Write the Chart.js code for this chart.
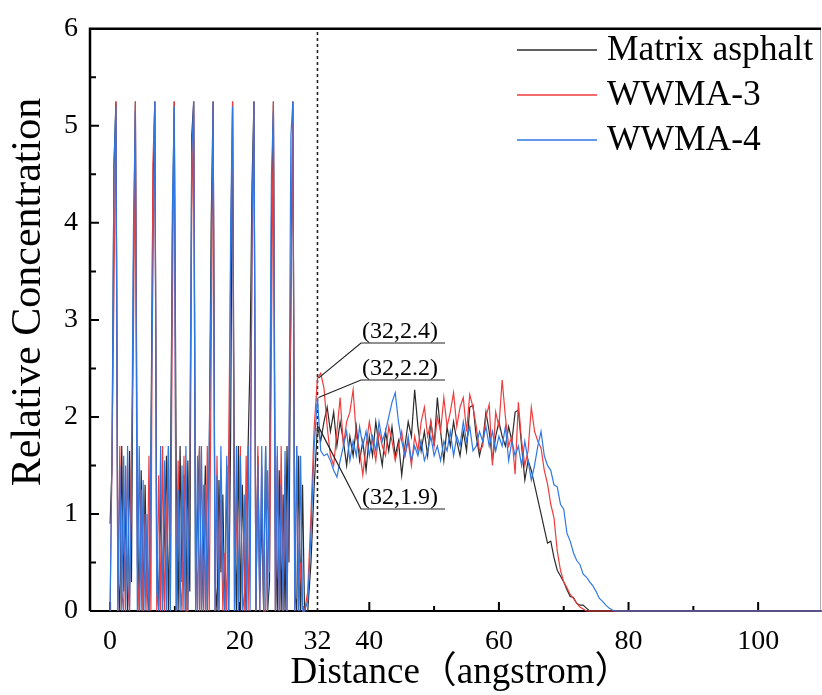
<!DOCTYPE html>
<html>
<head>
<meta charset="utf-8">
<script src="https://cdn.jsdelivr.net/npm/chart.js@4.4.1/dist/chart.umd.min.js"></script>
<style>
  html, body { margin: 0; padding: 0; background: #fff; }
  canvas { display: block; }
</style>
</head>
<body>
<canvas id="profileChart" width="822" height="695"></canvas>
<script>
// distance grid (angstrom), dense in the layered region, coarser after
const distLeft = [
  0, 0.3, 0.6, 0.9, 1.2, 1.5, 1.8, 2.1, 2.4, 2.7,
  3, 3.3, 3.6, 3.9, 4.2, 4.5, 4.8, 5.1, 5.4, 5.7,
  6, 6.3, 6.6, 6.9, 7.2, 7.5, 7.8, 8.1, 8.4, 8.7,
  9, 9.3, 9.6, 9.9, 10.2, 10.5, 10.8, 11.1, 11.4, 11.7,
  12, 12.3, 12.6, 12.9, 13.2, 13.5, 13.8, 14.1, 14.4, 14.7,
  15, 15.3, 15.6, 15.9, 16.2, 16.5, 16.8, 17.1, 17.4, 17.7,
  18, 18.3, 18.6, 18.9, 19.2, 19.5, 19.8, 20.1, 20.4, 20.7,
  21, 21.3, 21.6, 21.9, 22.2, 22.5, 22.8, 23.1, 23.4, 23.7,
  24, 24.3, 24.6, 24.9, 25.2, 25.5, 25.8, 26.1, 26.4, 26.7,
  27, 27.3, 27.6, 27.9, 28.2, 28.5, 28.8, 29.1, 29.4, 29.7,
  30
];
const distRight = [
  30.5, 31, 31.5, 32, 32.5, 33, 33.5, 34, 34.5, 35,
  35.5, 36, 36.5, 37, 37.5, 38, 38.5, 39, 39.5, 40,
  40.5, 41, 41.5, 42, 42.5, 43, 43.5, 44, 44.5, 45,
  45.5, 46, 46.5, 47, 47.5, 48, 48.5, 49, 49.5, 50,
  50.5, 51, 51.5, 52, 52.5, 53, 53.5, 54, 54.5, 55,
  55.5, 56, 56.5, 57, 57.5, 58, 58.5, 59, 59.5, 60,
  60.5, 61, 61.5, 62, 62.5, 63, 63.5, 64, 64.5, 65,
  65.5, 66, 66.5, 67, 67.5, 68, 68.5, 69, 69.5, 70,
  70.5, 71, 71.5, 72, 72.5, 73, 73.5, 74, 74.5, 75,
  75.5, 76, 76.5, 77, 77.5, 78, 78.5, 79, 79.5, 80,
  90, 100, 110
];

// Matrix asphalt
const matrixLeft = [
  0.9, 1.5, 4.6, 5.25, 0.4, 0, 1.7, 0.2, 1.1, 0,
  1.65, 0.3, 3.5, 5.25, 1.0, 0, 1.45, 0, 1.3, 0.2,
  0, 1.7, 4.3, 5.25, 0.6, 0, 1.2, 0.1, 0.8, 1.6,
  0, 1.2, 3.8, 5.25, 1.5, 0, 1.7, 0.3, 1.4, 0,
  1.55, 0.2, 4.9, 5.25, 0, 1.1, 1.7, 0, 0.6, 1.5,
  0, 1.6, 4.0, 5.25, 0.3, 0, 1.35, 0.4, 1.2, 0,
  1.5, 0, 1.8, 5.25, 0.9, 0, 1.7, 0, 1.3, 0.5,
  0, 1.7, 2.6, 4.4, 5.25, 0, 1.6, 0.2, 1.0, 0,
  1.7, 0, 0.3, 4.0, 5.25, 0.8, 0, 1.45, 0, 1.2,
  0, 1.7, 0.5, 3.3, 5.25, 0.2, 0, 1.6, 0, 1.3,
  0
];
const matrixRight = [
  0, 0.5, 1.3, 1.9, 1.75, 1.95, 2.1, 1.85, 2.05, 1.7,
  1.95, 1.75, 1.5, 1.8, 1.6, 1.9, 1.55, 1.75, 1.45, 1.8,
  1.6, 1.95, 1.7, 1.5, 1.85, 1.65, 1.9, 1.6, 1.75, 1.4,
  1.7, 1.95, 1.8, 2.28, 1.9, 1.65, 1.85, 1.6, 1.95, 1.7,
  2.2, 1.85, 1.55, 1.9, 1.7, 1.95, 1.75, 1.6, 1.85, 1.65,
  2.1, 2.12, 1.8, 1.6, 1.75, 2.05, 1.85, 1.55, 1.8, 1.95,
  1.8, 1.7, 1.9, 1.75, 2.05, 2.07, 1.7, 1.35, 1.55, 1.45,
  1.3, 1.15, 1.0, 0.85, 0.7, 0.72, 0.55, 0.42, 0.36, 0.3,
  0.22, 0.15, 0.14, 0.08, 0.06, 0.06, 0.03, 0, 0, 0,
  0, 0, 0, 0, 0, 0, 0, 0, 0, 0,
  0, 0, 0
];

// WWMA-3
const wwma3Left = [
  0, 1.6, 3.3, 5.25, 0, 1.7, 0.2, 0, 1.5, 0.3,
  0, 1.7, 2.8, 5.25, 0.5, 0, 1.25, 0, 1.0, 0,
  1.6, 0, 4.6, 5.25, 0, 1.4, 0, 1.7, 0, 0.9,
  1.7, 0, 3.0, 5.25, 0, 1.55, 0.3, 0, 1.6, 0,
  0, 1.5, 4.1, 5.25, 0.9, 0, 1.7, 0, 1.3, 0,
  1.7, 0, 2.6, 5.25, 0, 1.6, 0, 1.15, 0, 0.6,
  0, 1.7, 3.6, 5.25, 0, 1.2, 0, 1.7, 0.2, 0,
  1.6, 0, 1.3, 3.5, 5.25, 0, 1.7, 0, 1.5, 0,
  0, 1.45, 0.4, 2.8, 5.25, 0, 1.6, 0, 1.7, 0,
  1.4, 0, 1.7, 3.0, 5.25, 0, 1.7, 0, 0.5, 0,
  0
];
const wwma3Right = [
  0.2, 1.0, 1.9, 2.4, 2.45, 2.3, 1.9, 1.6, 1.5, 1.85,
  2.2, 1.7, 1.95, 2.05, 2.28, 1.8, 1.65, 1.4, 1.7, 1.95,
  1.75, 1.55, 1.85, 1.7, 1.6, 1.9, 1.75, 1.55, 1.7, 1.85,
  1.6, 1.75, 1.5, 1.8, 1.65, 1.95, 2.1, 1.8, 1.95, 1.7,
  2.0, 1.85, 2.2, 1.9, 2.05, 2.25, 1.9, 2.1, 2.2, 1.85,
  2.23, 2.1, 1.9, 1.65, 1.7, 2.0, 2.13, 1.5, 2.05, 1.9,
  2.38, 2.0, 1.7, 1.8, 1.41, 2.15, 1.75, 1.5, 1.65, 2.1,
  1.85, 1.75, 1.68, 1.45, 1.31, 1.1, 0.96, 0.62, 0.42, 0.3,
  0.24, 0.17, 0.13, 0.08, 0.04, 0.02, 0, 0, 0, 0,
  0, 0, 0, 0, 0, 0, 0, 0, 0, 0,
  0, 0, 0
];

// WWMA-4
const wwma4Left = [
  0, 1.7, 4.6, 5.2, 0, 1.5, 0, 1.6, 0, 1.7,
  0, 1.2, 3.9, 5.15, 0, 1.7, 0, 1.35, 0, 1.0,
  0, 1.7, 3.4, 5.25, 0.2, 0, 1.7, 0, 1.55, 0,
  1.7, 0, 4.1, 5.2, 0, 1.25, 0, 1.5, 0, 1.7,
  0, 1.6, 4.7, 5.25, 0, 1.6, 0, 1.7, 0, 1.3,
  0, 1.7, 3.5, 5.25, 0, 1.4, 0, 1.7, 0.4, 0,
  1.6, 0, 4.0, 5.2, 0, 1.7, 0, 1.6, 0, 1.2,
  0, 1.7, 0, 4.0, 5.25, 0, 1.5, 0, 1.7, 0,
  1.7, 0, 1.6, 4.5, 5.15, 0, 1.7, 0, 1.3, 0,
  1.65, 0, 1.7, 4.9, 5.25, 0, 1.7, 0, 1.6, 0,
  0
];
const wwma4Right = [
  0.1, 0.8, 1.7, 2.2, 1.65, 1.6, 1.62, 1.55, 1.45, 1.38,
  1.55, 1.7, 1.85, 1.55, 1.75, 1.6, 1.9, 1.7, 1.85, 1.6,
  1.8, 1.65, 1.95, 1.75, 1.85, 2.0, 2.15, 2.25, 1.95, 1.75,
  1.6, 1.8, 1.55, 1.7, 1.6, 1.75, 1.55, 1.65, 1.8, 1.6,
  1.7, 1.55, 1.75, 1.65, 1.85, 1.6, 1.8, 1.7, 1.95, 1.75,
  1.9, 1.65, 1.7, 1.85, 1.75, 1.9, 1.7, 1.85, 1.65, 1.8,
  1.7, 1.9, 1.55, 1.75, 1.6, 1.7, 1.5, 1.75, 1.55, 1.35,
  1.5, 1.7, 1.85, 1.6, 1.5, 1.45, 1.3, 1.28, 1.1, 1.05,
  0.8, 0.72, 0.6, 0.52, 0.48, 0.38, 0.35, 0.3, 0.26, 0.2,
  0.13, 0.1, 0.06, 0.03, 0.01, 0, 0, 0, 0, 0,
  0, 0, 0
];

const seriesNames = ["Matrix asphalt", "WWMA-3", "WWMA-4"];
const seriesColors = ["#2b2b2b", "#f03c3c", "#2e78e4"];
const xTickValues = [0, 20, 32, 40, 60, 80, 100];
// labelled points at the interface
const interfaceMarks = [
  { x: 32, y: 2.4, label: "(32,2.4)" },
  { x: 32, y: 2.2, label: "(32,2.2)" },
  { x: 32, y: 1.9, label: "(32,1.9)" }
];

const serif = "'Liberation Serif', 'Times New Roman', 'Noto Sans CJK SC', serif";

function toPoints(xs, ys) {
  return xs.map((x, i) => ({ x: x, y: ys[i] }));
}

const decorPlugin = {
  id: "decor",
  beforeDatasetsDraw(chart) {
    const { ctx, chartArea: a, scales: { x, y } } = chart;
    ctx.save();
    // frame
    ctx.strokeStyle = "#aaa";
    ctx.lineWidth = 1;
    ctx.beginPath();
    ctx.moveTo(a.right - 0.5, a.top);
    ctx.lineTo(a.right - 0.5, a.bottom);
    ctx.stroke();
    ctx.strokeStyle = "#000";
    ctx.lineWidth = 2.5;
    ctx.beginPath();
    ctx.moveTo(a.left, a.bottom);
    ctx.lineTo(a.left, a.top);
    ctx.lineTo(a.right, a.top);
    ctx.stroke();
    ctx.lineWidth = 2;
    ctx.beginPath();
    ctx.moveTo(a.left, a.bottom);
    ctx.lineTo(a.right, a.bottom);
    ctx.stroke();
    // inward ticks
    ctx.lineWidth = 2;
    ctx.beginPath();
    [0, 20, 40, 60, 80, 100].forEach(v => {
      const px = x.getPixelForValue(v);
      ctx.moveTo(px, a.bottom); ctx.lineTo(px, a.bottom - 9);
    });
    [10, 30, 50, 70, 90].forEach(v => {
      const px = x.getPixelForValue(v);
      ctx.moveTo(px, a.bottom); ctx.lineTo(px, a.bottom - 5);
    });
    [1, 2, 3, 4, 5].forEach(v => {
      const py = y.getPixelForValue(v);
      ctx.moveTo(a.left, py); ctx.lineTo(a.left + 9, py);
    });
    [0.5, 1.5, 2.5, 3.5, 4.5, 5.5].forEach(v => {
      const py = y.getPixelForValue(v);
      ctx.moveTo(a.left, py); ctx.lineTo(a.left + 6, py);
    });
    ctx.stroke();
    // dotted interface line
    const ix = x.getPixelForValue(32);
    ctx.setLineDash([3, 3]);
    ctx.lineWidth = 1.6;
    ctx.strokeStyle = "#222";
    ctx.beginPath();
    ctx.moveTo(ix, a.bottom);
    ctx.lineTo(ix, a.top);
    ctx.stroke();
    ctx.restore();
  },
  afterDatasetsDraw(chart) {
    const { ctx, scales: { x, y } } = chart;
    ctx.save();
    // annotations with leader lines
    const anchors = [
      { lx: 361, ly: 343 },
      { lx: 361, ly: 380 },
      { lx: 361, ly: 509 }
    ];
    ctx.font = "24px " + serif;
    ctx.fillStyle = "#000";
    ctx.textBaseline = "alphabetic";
    ctx.textAlign = "left";
    interfaceMarks.forEach((m, i) => {
      const px = x.getPixelForValue(m.x);
      const py = y.getPixelForValue(m.y);
      const an = anchors[i];
      ctx.strokeStyle = "#222";
      ctx.lineWidth = 1.2;
      ctx.beginPath();
      ctx.moveTo(px + 1, py);
      ctx.lineTo(an.lx, an.ly);
      ctx.lineTo(an.lx + 84, an.ly);
      ctx.stroke();
      ctx.fillText(m.label, an.lx + 1, an.ly - 5);
    });
    // legend
    ctx.font = "35.5px " + serif;
    seriesNames.forEach((name, i) => {
      const base = 60 + i * 45;
      ctx.strokeStyle = seriesColors[i];
      ctx.lineWidth = 1.5;
      ctx.beginPath();
      ctx.moveTo(517, base - 10);
      ctx.lineTo(597, base - 10);
      ctx.stroke();
      ctx.fillStyle = "#000";
      ctx.fillText(name, 607, base);
    });
    // axis titles
    ctx.textAlign = "center";
    ctx.textBaseline = "middle";
    ctx.font = "37px " + serif;
    ctx.fillText("Distance（angstrom）", 461, 673);
    ctx.translate(29, 292);
    ctx.rotate(-Math.PI / 2);
    ctx.font = "42px " + serif;
    ctx.fillText("Relative Concentration", 0, 0);
    ctx.restore();
  }
};

const datasets = [
  { left: matrixLeft, right: matrixRight, order: 3 },
  { left: wwma3Left, right: wwma3Right, order: 2 },
  { left: wwma4Left, right: wwma4Right, order: 1 }
].map((s, i) => ({
  label: seriesNames[i],
  data: toPoints(distLeft, s.left).concat(toPoints(distRight, s.right)),
  borderColor: seriesColors[i],
  borderWidth: 1.2,
  pointRadius: 0,
  tension: 0,
  fill: false,
  order: s.order,
  clip: false
}));

new Chart(document.getElementById("profileChart").getContext("2d"), {
  type: "line",
  data: { datasets: datasets },
  plugins: [decorPlugin],
  options: {
    responsive: false,
    animation: false,
    devicePixelRatio: 1,
    layout: { padding: { top: 23, right: 1, left: 0, bottom: 0 } },
    plugins: {
      legend: { display: false },
      tooltip: { enabled: false }
    },
    scales: {
      x: {
        type: "linear",
        min: -3.1,
        max: 109.7,
        grid: { display: false, drawTicks: false },
        border: { display: false },
        afterBuildTicks: scale => { scale.ticks = xTickValues.map(v => ({ value: v })); },
        afterFit: scale => { scale.height = 84; },
        ticks: {
          autoSkip: false,
          maxRotation: 0,
          padding: 14,
          color: "#000",
          font: { family: serif, size: 28 }
        }
      },
      y: {
        min: 0,
        max: 6,
        grid: { display: false, drawTicks: false },
        border: { display: false },
        afterFit: scale => { scale.width = 90; },
        ticks: {
          stepSize: 1,
          padding: 12,
          color: "#000",
          font: { family: serif, size: 28 }
        }
      }
    }
  }
});
</script>
</body>
</html>
